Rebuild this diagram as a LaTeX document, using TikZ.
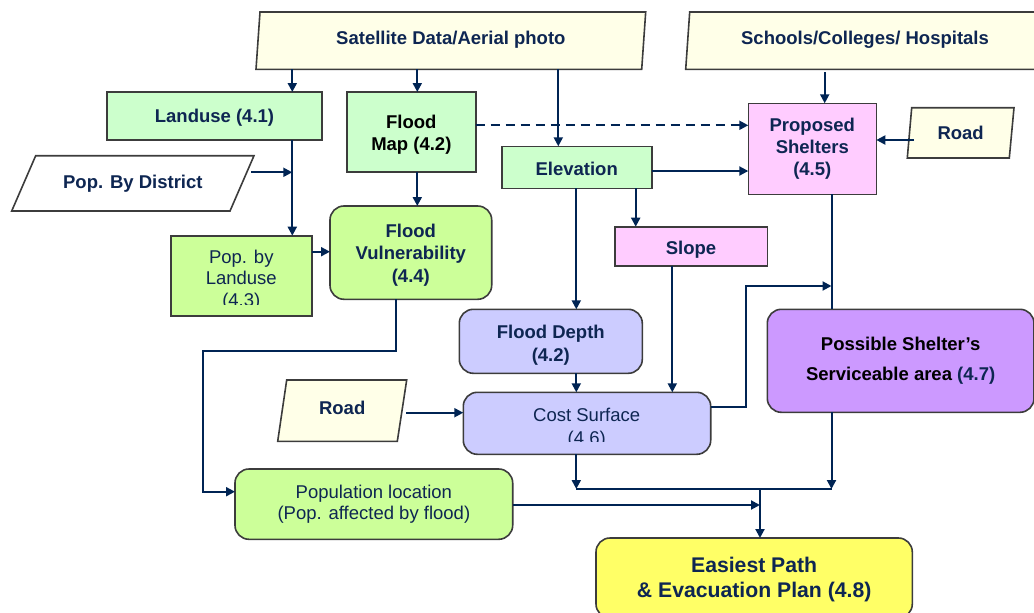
\documentclass[tikz,border=0pt]{standalone}
\usepackage{fontspec}
\setmainfont{Liberation Sans}
\usetikzlibrary{arrows.meta,calc}
\definecolor{navy}{RGB}{14,38,82}
\definecolor{linec}{RGB}{0,36,84}
\definecolor{bord}{RGB}{60,60,60}
\definecolor{ivory}{RGB}{255,255,232}
\definecolor{greenA}{RGB}{204,255,204}
\definecolor{greenB}{RGB}{204,255,153}
\definecolor{pinkA}{RGB}{255,204,255}
\definecolor{lavA}{RGB}{204,204,255}
\definecolor{purA}{RGB}{204,153,255}
\definecolor{yelA}{RGB}{255,255,102}
\newcommand{\upstrut}[1]{\rule{0pt}{#1pt}}
\newcommand{\dnstrut}[1]{\rule[-#1pt]{0pt}{0pt}}
\tikzset{
  txt/.style={inner sep=0pt, outer sep=0pt, align=center,
    text=navy, font=\fontsize{18.5}{22.3}\selectfont\bfseries},
  base/.style={txt, draw=bord, line width=1.6pt},
  rbox/.style={base, rectangle, minimum width=#1},
  rrbox/.style={base, rectangle, rounded corners=14pt, minimum width=#1},
  ptext/.style={txt, rectangle, minimum width=#1},
  parashape/.style={draw=bord, line width=1.6pt, line join=miter},
  arr/.style={draw=linec, line width=2pt, -{Triangle[length=9pt,width=9pt]}},
  ln/.style={draw=linec, line width=2pt},
  reg/.style={align=center, inner sep=0pt, text=navy},
}
\begin{document}
\begin{tikzpicture}[x=1pt,y=-1pt]
\useasboundingbox (0,0) rectangle (1034,613);
% ---- parallelograms ----
\path[parashape, fill=ivory] (256,69.3) -- (260,12) -- (645.7,12) -- (641.7,69.3) -- cycle;
\node[ptext=389.7, minimum height=57.3] (sat) at (450.85,40.65) {\dnstrut{5}Satellite Data/Aerial photo};
\path[parashape, fill=ivory] (685.7,69.3) -- (689.7,12) -- (1060,12) -- (1056,69.3) -- cycle;
\node[ptext=350, minimum height=57.3] (school) at (865,40.65) {\dnstrut{5}Schools/Colleges/ Hospitals};
\path[parashape, fill=white] (11.7,211) -- (35.7,155.7) -- (254,155.7) -- (230,211) -- cycle;
\node[ptext=242.3, minimum height=55.3] (popdist) at (132.85,183.35) {Pop. By District};
\path[parashape, fill=ivory] (907.3,158) -- (911.7,107.7) -- (1014,107.7) -- (1009.3,158) -- cycle;
\node[ptext=106.7, minimum height=50.3] (roadR) at (960.65,132.85) {Road};
\path[parashape, fill=ivory] (277.7,441.3) -- (286.7,380) -- (406.7,380) -- (397.3,441.3) -- cycle;
\node[ptext=129, minimum height=61.3] (roadL) at (342.2,410.65) {\dnstrut{6}Road};
% ---- boxes ----
\node[rbox=215, minimum height=48, fill=greenA] (landuse) at (214.5,116) {\upstrut{17.5}Landuse (4.1)};
\node[rbox=128.7, minimum height=80, fill=greenA, text=black] (fmap) at (411.35,132) {\upstrut{19.5}Flood\\Map (4.2)};
\node[rbox=140.7, minimum height=80.3, fill=greenB] (popland) at (241.35,275.85) {};
\node[rrbox=161.7, minimum height=93.3, fill=greenB] (fvul) at (410.85,252.65) {\upstrut{18.5}Flood\\Vulnerability\\(4.4)};
\node[rbox=150, minimum height=42, fill=greenA] (elev) at (576.7,167.3) {\upstrut{17.5}Elevation};
\node[rbox=128, minimum height=91, fill=pinkA] (propsh) at (812.3,148.8) {Proposed\\Shelters\\(4.5)};
\node[rbox=152.6, minimum height=39.3, fill=pinkA] (slope) at (691,246.35) {\upstrut{20.5}Slope};
\node[rrbox=183, minimum height=64, fill=lavA] (fdepth) at (550.8,341.3) {\upstrut{21.5}Flood Depth\\(4.2)};
\node[rrbox=247.4, minimum height=62, fill=lavA] (cost) at (587,423.3) {};
\node[rrbox=266.7, minimum height=103, fill=purA, text=black, font=\fontsize{18.5}{30}\selectfont\bfseries] (possh) at (900.65,360.8)
  {Possible Shelter’s\\Serviceable area \textcolor{navy}{(4.7)}};
\node[rrbox=277.7, minimum height=70.3, fill=greenB, font=\fontsize{18.5}{21.6}\selectfont] (poploc) at (373.85,504.15)
  {Population location\\(Pop. affected by flood)};
\node[rrbox=316.3, minimum height=80, fill=yelA, font=\fontsize{21.2}{25.4}\selectfont\bfseries] (easy) at (754.15,578)
  {\upstrut{18}Easiest Path\\\& Evacuation Plan (4.8)};
% clipped texts
\begin{scope}
  \clip (171,236) rectangle (311.7,304);
  \node[reg, font=\fontsize{18.5}{21.7}\selectfont] (poplandtxt) at (241.3,280.1) {Pop. by\\Landuse\\(4.3)};
\end{scope}
\begin{scope}
  \clip (464,393) rectangle (710,441.7);
  \node[reg, font=\fontsize{18.5}{23}\selectfont] (costtxt) at (586.7,428.2) {Cost Surface\\(4.6)};
\end{scope}
% ---- helper coordinates ----
\coordinate (xa) at (292.3,172.3);
\coordinate (xb) at (417.3,0);
\coordinate (xc) at (558.3,0);
\coordinate (xd) at (824.7,0);
\coordinate (xe) at (576.3,0);
\coordinate (xf) at (635.7,0);
\coordinate (xg) at (672.3,0);
\coordinate (xh) at (831.5,0);
\coordinate (xv) at (395.7,0);
\coordinate (c1) at (395.7,351);
\coordinate (c2) at (203.3,351);
\coordinate (c3) at (203.3,491.7);
\coordinate (k1) at (745.7,407.3);
\coordinate (k2) at (745.7,286);
\coordinate (k3) at (831.5,286);
\coordinate (j1) at (576.3,489);
\coordinate (j2) at (831.5,489);
\coordinate (jm) at (760,489);
\coordinate (jp) at (760,505);
\coordinate (ya) at (0,125.3);
\coordinate (yb) at (0,171);
\coordinate (yc) at (0,140);
\coordinate (yd) at (0,251.7);
\coordinate (ye) at (0,412.7);
\coordinate (pd) at (251.3,172.3);
\coordinate (rr) at (914,140);
\coordinate (rl) at (406,412.7);
% ---- connectors ----
\draw[arr] (sat.south -| xa) -- (landuse.north -| xa);
\draw[arr] (sat.south -| xb) -- (fmap.north -| xb);
\draw[arr] (sat.south -| xc) -- (elev.north -| xc);
\draw[arr] ($(school.south -| xd)+(0,3)$) -- (propsh.north -| xd);
\draw[arr, dashed, dash pattern=on 9pt off 6pt] (fmap.east |- ya) -- (propsh.west |- ya);
\draw[arr] (elev.east |- yb) -- (propsh.west |- yb);
\draw[arr] (rr) -- (propsh.east |- yc);
\draw[arr] (landuse.south -| xa) -- (popland.north -| xa);
\draw[arr] (pd) -- (xa);
\draw[arr] (fmap.south -| xb) -- (fvul.north -| xb);
\draw[arr] (popland.east |- yd) -- (fvul.west |- yd);
\draw[arr] (fvul.south -| xv) -- (c1) -- (c2) -- (c3) -- (poploc.west |- c3);
\draw[arr] (elev.south -| xe) -- (fdepth.north -| xe);
\draw[arr] (elev.south -| xf) -- (slope.north -| xf);
\draw[arr] (fdepth.south -| xe) -- (cost.north -| xe);
\draw[arr] (slope.south -| xg) -- (cost.north -| xg);
\draw[arr] (rl) -- (cost.west |- ye);
\draw[arr] (cost.east |- k1) -- (k1) -- (k2) -- (k3);
\draw[ln] (propsh.south -| xh) -- (possh.north -| xh);
\draw[arr] (cost.south -| j1) -- (j1);
\draw[ln] (j1) -- (j2);
\draw[arr] (possh.south -| xh) -- (j2);
\draw[arr] (poploc.east |- jp) -- (jp);
\draw[arr] (jm) -- (easy.north -| jm);
\end{tikzpicture}
\end{document}
